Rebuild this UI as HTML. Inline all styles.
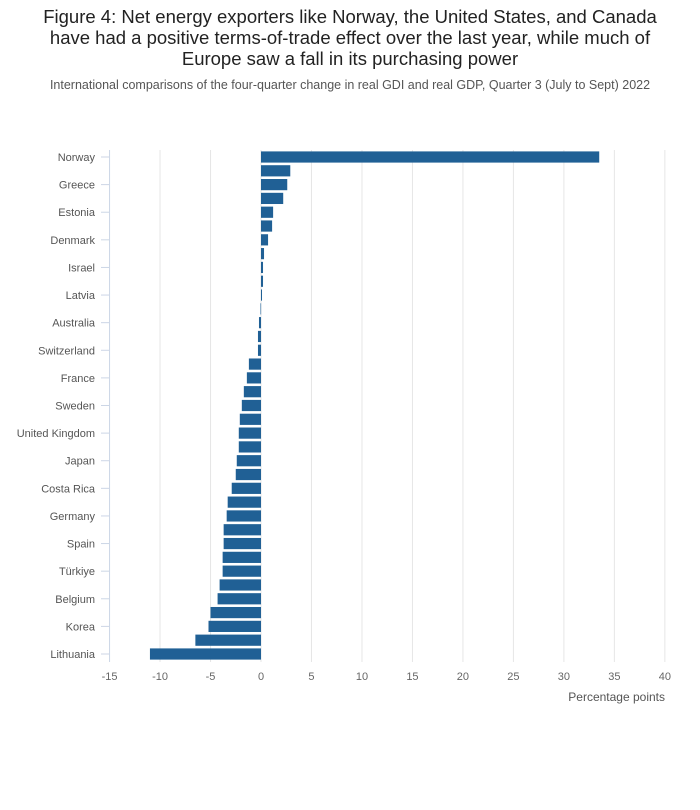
<!DOCTYPE html>
<html><head><meta charset="utf-8"><style>
body{margin:0;background:#fff;font-family:"Liberation Sans",sans-serif;}
</style></head><body>
<div style="position:relative;width:700px;height:810px;">
<div style="position:absolute;left:35px;top:6px;width:630px;text-align:center;font-size:18.5px;line-height:21px;color:#222;">Figure 4: Net energy exporters like Norway, the United States, and Canada have had a positive terms-of-trade effect over the last year, while much of Europe saw a fall in its purchasing power</div>
<div style="position:absolute;left:0;top:78px;width:700px;text-align:center;font-size:12.5px;color:#555;">International comparisons of the four-quarter change in real GDI and real GDP, Quarter 3 (July to Sept) 2022</div>
<svg id="svg" width="700" height="810" style="position:absolute;left:0;top:0"></svg>
</div>
<script>
const categories=["Norway","","Greece","","Estonia","","Denmark","","Israel","","Latvia","","Australia","","Switzerland","","France","","Sweden","","United Kingdom","","Japan","","Costa Rica","","Germany","","Spain","","Türkiye","","Belgium","","Korea","","Lithuania"];
const values=[33.5,2.9,2.6,2.2,1.2,1.1,0.7,0.3,0.2,0.2,0.1,-0.05,-0.2,-0.3,-0.3,-1.2,-1.4,-1.7,-1.9,-2.1,-2.2,-2.2,-2.4,-2.5,-2.9,-3.3,-3.4,-3.7,-3.7,-3.8,-3.8,-4.1,-4.3,-5.0,-5.2,-6.5,-11.0];
const xTicks=[-15,-10,-5,0,5,10,15,20,25,30,35,40];
const NS="http://www.w3.org/2000/svg",svg=document.getElementById('svg');
const x=v=>261+(v)*(665-109.7)/55, y=i=>157+i*(654-157)/36;
function mk(t,a){const e=document.createElementNS(NS,t);for(const k in a)e.setAttribute(k,a[k]);svg.appendChild(e);return e;}
xTicks.forEach(t=>{
 const g=mk('line',{x1:x(t),x2:x(t),y1:150,y2:662,stroke:t===-15?'#ccd6e6':'#e6e6e6','stroke-width':1});
 
 
 const l=mk('text',{x:x(t),y:680,'text-anchor':'middle','font-size':11,fill:'#666','font-family':'Liberation Sans,sans-serif'});
 l.textContent=t;
 
 
});
values.forEach((v,i)=>{
 const r=mk('rect',{x:Math.min(x(0),x(v)),y:y(i)-5.6,width:Math.max(0.6,Math.abs(x(v)-x(0))),height:11.2,fill:'#206095'});
 
 
 if(categories[i]){
  const tk=mk('line',{x1:101,x2:109,y1:y(i),y2:y(i),stroke:'#ccd6e6'});
  
  
  const t=mk('text',{x:95,y:y(i)+4,'text-anchor':'end','font-size':11,fill:'#555','font-family':'Liberation Sans,sans-serif'});
  t.textContent=categories[i];
  
  
 }
});
const at=mk('text',{x:665,y:701,'text-anchor':'end','font-size':12,fill:'#555','font-family':'Liberation Sans,sans-serif'});
at.textContent='Percentage points';


</script>
</body></html>
